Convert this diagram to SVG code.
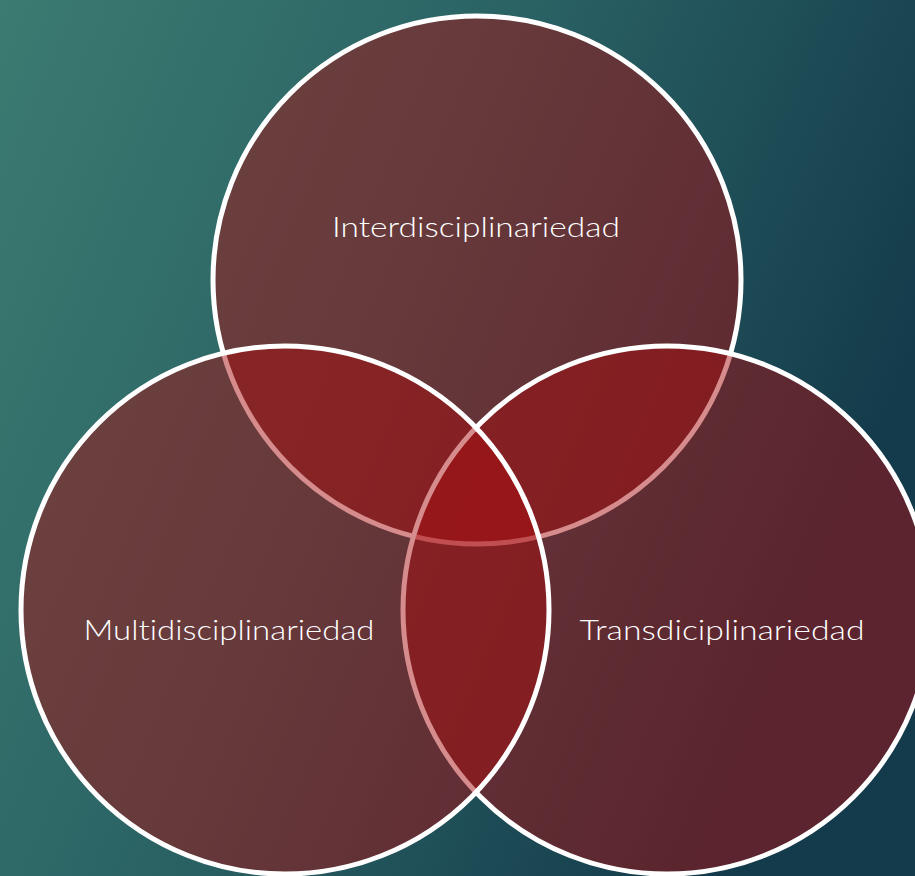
<svg xmlns="http://www.w3.org/2000/svg" width="915" height="876" viewBox="0 0 915 876">
<defs>
<linearGradient id="bg" x1="0" y1="0" x2="1" y2="0.4">
<stop offset="0" stop-color="#3b7b71"/>
<stop offset="0.5" stop-color="#2a6264"/>
<stop offset="1" stop-color="#143b4b"/>
</linearGradient>
</defs>
<style>
.c{fill:rgba(169,12,15,0.48);stroke:#ffffff;stroke-width:5}
.t{fill:#ffffff;font-family:Lato,"Liberation Sans",sans-serif;font-weight:300;font-size:27px;text-anchor:middle;font-variant-ligatures:none;font-feature-settings:"liga" 0}
</style>
<rect x="0" y="0" width="915" height="876" fill="url(#bg)"/>
<g id="inter">
<circle class="c" cx="477" cy="280" r="264"/>
<text class="t" x="476" y="237" textLength="288" lengthAdjust="spacingAndGlyphs">Interdisciplinariedad</text>
</g>
<g id="trans">
<circle class="c" cx="667" cy="610" r="264"/>
<text class="t" x="722" y="640" textLength="285" lengthAdjust="spacingAndGlyphs">Transdiciplinariedad</text>
</g>
<g id="multi">
<circle class="c" cx="285" cy="610" r="264"/>
<text class="t" x="229" y="640" textLength="291" lengthAdjust="spacingAndGlyphs">Multidisciplinariedad</text>
</g>
<g id="connectors"></g>
</svg>
